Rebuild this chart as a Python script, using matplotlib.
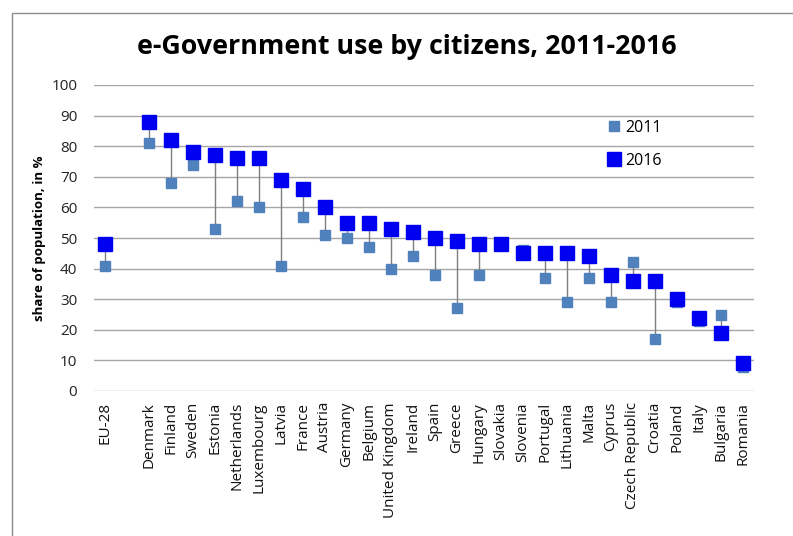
import matplotlib.pyplot as plt
from matplotlib.patches import Rectangle
import numpy as np

plt.rcParams['font.family'] = ['Open Sans', 'DejaVu Sans']

# ===== data =====
countries = ['EU-28', '', 'Denmark', 'Finland', 'Sweden', 'Estonia', 'Netherlands',
             'Luxembourg', 'Latvia', 'France', 'Austria', 'Germany', 'Belgium',
             'United Kingdom', 'Ireland', 'Spain', 'Greece', 'Hungary', 'Slovakia',
             'Slovenia', 'Portugal', 'Lithuania', 'Malta', 'Cyprus', 'Czech Republic',
             'Croatia', 'Poland', 'Italy', 'Bulgaria', 'Romania']
y2011 = [41, np.nan, 81, 68, 74, 53, 62, 60, 41, 57, 51, 50, 47, 40, 44, 38, 27,
         38, 48, 46, 37, 29, 37, 29, 42, 17, 29, 23, 25, 8]
y2016 = [48, np.nan, 88, 82, 78, 77, 76, 76, 69, 66, 60, 55, 55, 53, 52, 50, 49,
         48, 48, 45, 45, 45, 44, 38, 36, 36, 30, 24, 19, 9]

W, H = 793, 536
fig = plt.figure(figsize=(W / 100, H / 100), dpi=100)
ax = fig.add_axes([94 / W, 1 - 391 / H, (754 - 94) / W, (391 - 85) / H])

x = np.arange(len(countries))
a = np.array(y2011, dtype=float)
b = np.array(y2016, dtype=float)

# high-low lines
ax.vlines(x, np.fmin(a, b), np.fmax(a, b), color='#7f7f7f', lw=1.0, zorder=2)
ax.plot(x, a, 's', color='#4f81bd', ms=6.5, mec='#4f81bd', label='2011', zorder=3)
ax.plot(x, b, 's', color='#0000f0', ms=10, mec='#0000f0', label='2016', zorder=4)

ax.set_xlim(-0.5, len(countries) - 0.5)
ax.set_ylim(0, 100)
ax.set_yticks(range(0, 101, 10))
ax.set_xticks(x)
ax.set_xticklabels(countries, rotation=90, fontsize=11)
ax.tick_params(axis='y', length=0, pad=12, labelsize=11, colors='#222222')
ax.tick_params(axis='x', length=0, pad=8, colors='#111111')
ax.grid(axis='y', color='#a6a6a6', lw=1.0)
ax.set_axisbelow(True)
for s in ax.spines.values():
    s.set_visible(False)

ax.set_ylabel('share of population, in %', fontsize=9.5, fontweight='bold', labelpad=4)

fig.text(407 / W, 1 - 47 / H, 'e-Government use by citizens, 2011-2016',
         ha='center', va='center', fontsize=19.3, fontweight='bold')

ax.legend(loc='upper left', bbox_to_anchor=(0.78, 0.886), frameon=False,
          fontsize=11.5, handlelength=0.7, handletextpad=0.3, labelspacing=1.06,
          borderpad=0, borderaxespad=0)

# outer frame
fig.patches.append(Rectangle((12 / W, -0.1), 1.2, 1 - 13 / H + 0.1, transform=fig.transFigure,
                             fill=False, edgecolor='#8c8c8c', lw=1.0))

fig.savefig('out.png', dpi=100)
